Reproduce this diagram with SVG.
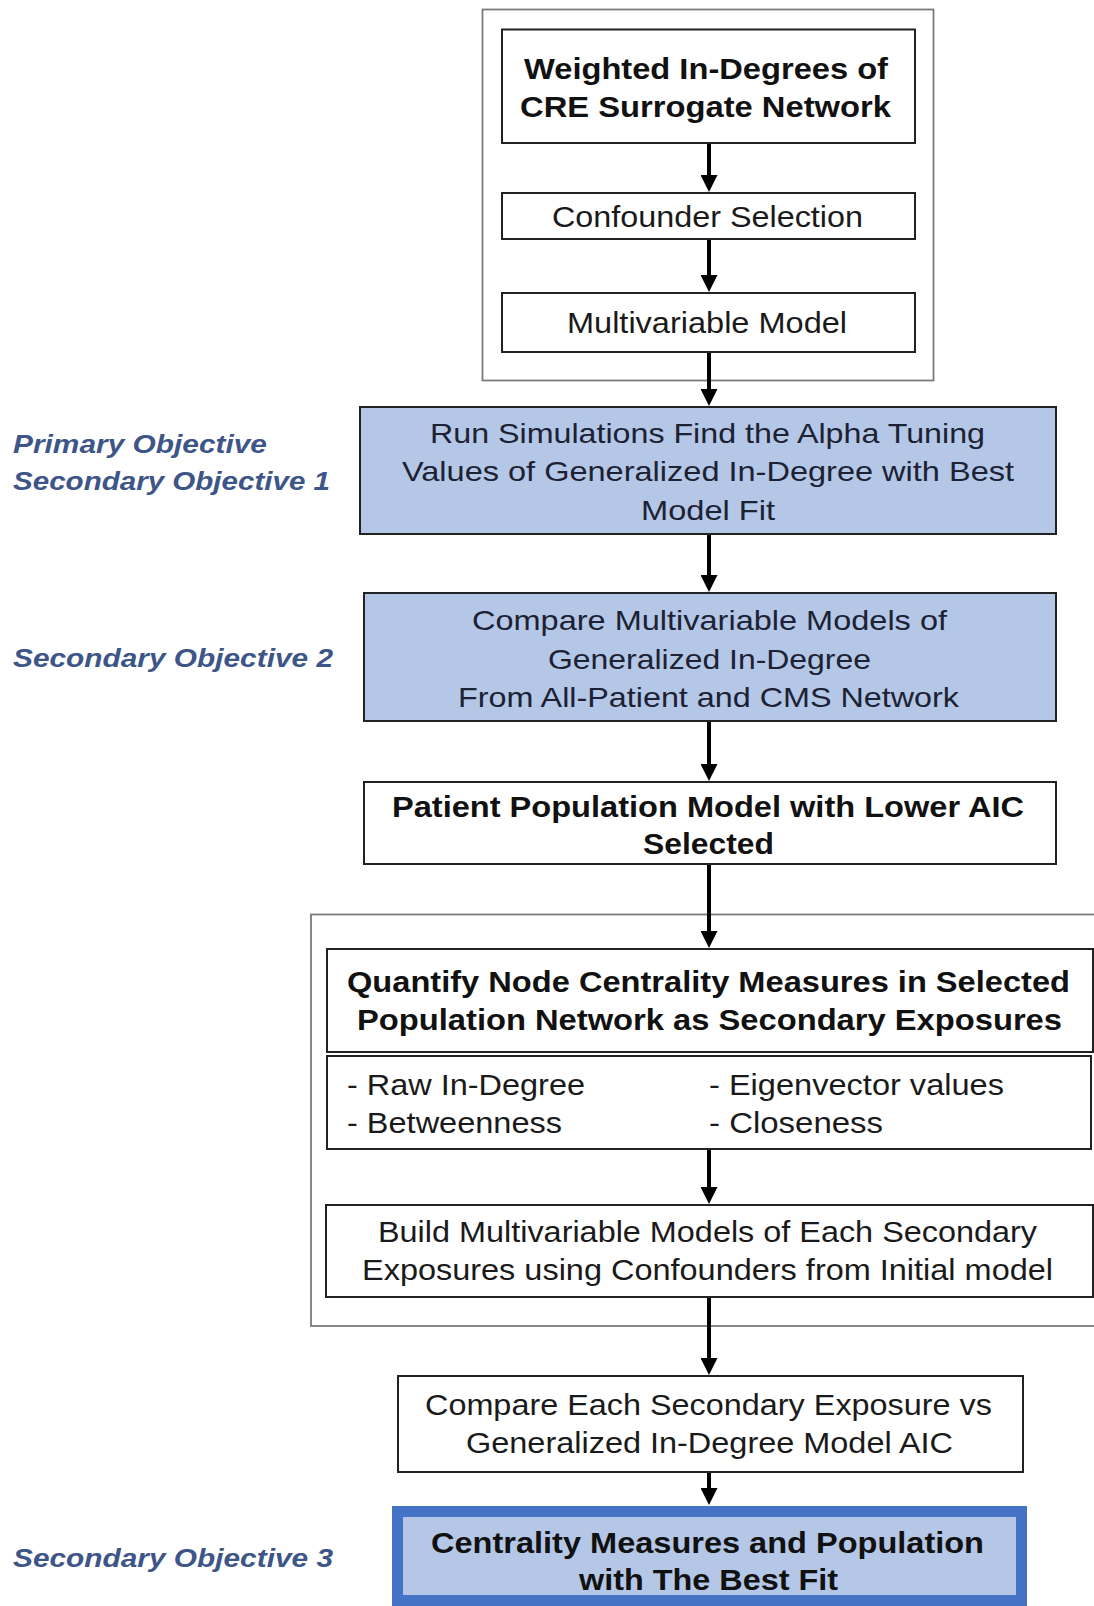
<svg xmlns="http://www.w3.org/2000/svg" width="1094" height="1606" viewBox="0 0 1094 1606">
<defs>
<marker id="ah" markerUnits="userSpaceOnUse" markerWidth="17" markerHeight="17" viewBox="0 0 17 17" refX="3" refY="8.5" orient="auto">
<path d="M0,0 L17,8.5 L0,17 Z" fill="#000"/>
</marker>
<style>
.bg{fill:#ffffff}
.box{fill:#ffffff;stroke:#222;stroke-width:2}
.blue{fill:#b4c7e7;stroke:#222;stroke-width:2}
.final{fill:#b4c7e7;stroke:#4472c4;stroke-width:11}
.cont{fill:none;stroke:#7a7a7a;stroke-width:1.8}
.t{font-family:"Liberation Sans",Arial,sans-serif;font-size:29px;fill:#1a1a1a}
.tb{font-family:"Liberation Sans",Arial,sans-serif;font-size:29px;font-weight:bold;fill:#111}
.tn{font-family:"Liberation Sans",Arial,sans-serif;font-size:28px;fill:#1c2233}
.lab{font-family:"Liberation Sans",Arial,sans-serif;font-size:25px;font-weight:bold;font-style:italic;fill:#3d5687}
.c{text-anchor:middle}
.arr{stroke:#000;stroke-width:4;fill:none;marker-end:url(#ah)}
</style>
</defs>
<rect class="bg" x="0" y="0" width="1094" height="1606"/>

<g id="container-top"><rect class="cont" x="482.5" y="9.5" width="451" height="371"/></g>
<g id="container-bottom"><rect class="cont" x="311" y="914.5" width="800" height="411.5"/></g>

<g id="connectors">
<line class="arr" x1="709" y1="144" x2="709" y2="178"/>
<line class="arr" x1="709" y1="240" x2="709" y2="278"/>
<line class="arr" x1="709" y1="353" x2="709" y2="392"/>
<line class="arr" x1="709" y1="535" x2="709" y2="578"/>
<line class="arr" x1="709" y1="722" x2="709" y2="767"/>
<line class="arr" x1="709" y1="865" x2="709" y2="934"/>
<line class="arr" x1="709" y1="1150" x2="709" y2="1190"/>
<line class="arr" x1="709" y1="1298" x2="709" y2="1361"/>
<line class="arr" x1="709" y1="1473" x2="709" y2="1491"/>
</g>

<g id="node-weighted">
<rect class="box" x="502" y="29.5" width="413" height="113.5"/>
<text class="tb c" x="706" y="79" textLength="364" lengthAdjust="spacingAndGlyphs">Weighted In-Degrees of</text>
<text class="tb c" x="705.5" y="117" textLength="371" lengthAdjust="spacingAndGlyphs">CRE Surrogate Network</text>
</g>

<g id="node-confounder">
<rect class="box" x="502" y="193" width="413" height="46"/>
<text class="t c" x="707.5" y="227" textLength="311" lengthAdjust="spacingAndGlyphs">Confounder  Selection</text>
</g>

<g id="node-multivariable">
<rect class="box" x="502" y="293" width="413" height="59"/>
<text class="t c" x="707" y="333" textLength="280" lengthAdjust="spacingAndGlyphs">Multivariable  Model</text>
</g>

<g id="node-run-simulations">
<rect class="blue" x="360" y="407" width="696" height="127"/>
<text class="tn c" x="707.5" y="443" textLength="555" lengthAdjust="spacingAndGlyphs">Run  Simulations Find the Alpha Tuning</text>
<text class="tn c" x="708" y="481" textLength="612" lengthAdjust="spacingAndGlyphs">Values of Generalized In-Degree with Best</text>
<text class="tn c" x="708" y="520" textLength="134" lengthAdjust="spacingAndGlyphs">Model Fit</text>
</g>

<g id="node-compare-models">
<rect class="blue" x="364" y="593" width="692" height="128"/>
<text class="tn c" x="709.5" y="630" textLength="475" lengthAdjust="spacingAndGlyphs">Compare Multivariable  Models of</text>
<text class="tn c" x="709.5" y="669" textLength="323" lengthAdjust="spacingAndGlyphs">Generalized In-Degree</text>
<text class="tn c" x="708.5" y="707" textLength="501" lengthAdjust="spacingAndGlyphs">From All-Patient and CMS Network</text>
</g>

<g id="node-patient-population">
<rect class="box" x="364" y="782" width="692" height="82"/>
<text class="tb c" x="708" y="817" textLength="632" lengthAdjust="spacingAndGlyphs">Patient Population Model with Lower AIC</text>
<text class="tb c" x="708.5" y="854" textLength="131" lengthAdjust="spacingAndGlyphs">Selected</text>
</g>

<g id="node-quantify">
<rect class="box" x="327" y="949" width="766" height="103"/>
<text class="tb c" x="708.5" y="992" textLength="723" lengthAdjust="spacingAndGlyphs">Quantify Node Centrality Measures in  Selected</text>
<text class="tb c" x="709.5" y="1030" textLength="705" lengthAdjust="spacingAndGlyphs">Population Network as Secondary Exposures</text>
</g>

<g id="node-measures-list">
<rect class="box" x="327" y="1056" width="764" height="93"/>
<text class="t" x="347" y="1095" textLength="238" lengthAdjust="spacingAndGlyphs">-  Raw In-Degree</text>
<text class="t" x="347" y="1133" textLength="215" lengthAdjust="spacingAndGlyphs">-  Betweenness</text>
<text class="t" x="709" y="1095" textLength="295" lengthAdjust="spacingAndGlyphs">-  Eigenvector values</text>
<text class="t" x="709" y="1133" textLength="174" lengthAdjust="spacingAndGlyphs">-  Closeness</text>
</g>

<g id="node-build">
<rect class="box" x="326" y="1205" width="767" height="92"/>
<text class="t c" x="707.5" y="1242" textLength="659" lengthAdjust="spacingAndGlyphs">Build Multivariable  Models of Each Secondary</text>
<text class="t c" x="707.5" y="1280" textLength="691" lengthAdjust="spacingAndGlyphs">Exposures using Confounders  from Initial  model</text>
</g>

<g id="node-compare-each">
<rect class="box" x="398" y="1376" width="625" height="96"/>
<text class="t c" x="708.5" y="1415" textLength="567" lengthAdjust="spacingAndGlyphs">Compare Each Secondary Exposure vs</text>
<text class="t c" x="709.5" y="1453" textLength="487" lengthAdjust="spacingAndGlyphs">Generalized In-Degree  Model AIC</text>
</g>

<g id="node-centrality">
<rect class="final" x="397.5" y="1511.5" width="624" height="89"/>
<text class="tb c" x="707.5" y="1553" textLength="553" lengthAdjust="spacingAndGlyphs">Centrality Measures and Population</text>
<text class="tb c" x="708.5" y="1590" textLength="259" lengthAdjust="spacingAndGlyphs">with  The Best Fit</text>
</g>

<g id="labels">
<text class="lab" x="13" y="453" textLength="254" lengthAdjust="spacingAndGlyphs">Primary Objective</text>
<text class="lab" x="13" y="490" textLength="317" lengthAdjust="spacingAndGlyphs">Secondary Objective 1</text>
<text class="lab" x="13" y="667" textLength="320" lengthAdjust="spacingAndGlyphs">Secondary Objective 2</text>
<text class="lab" x="13" y="1567" textLength="320" lengthAdjust="spacingAndGlyphs">Secondary Objective 3</text>
</g>
</svg>
